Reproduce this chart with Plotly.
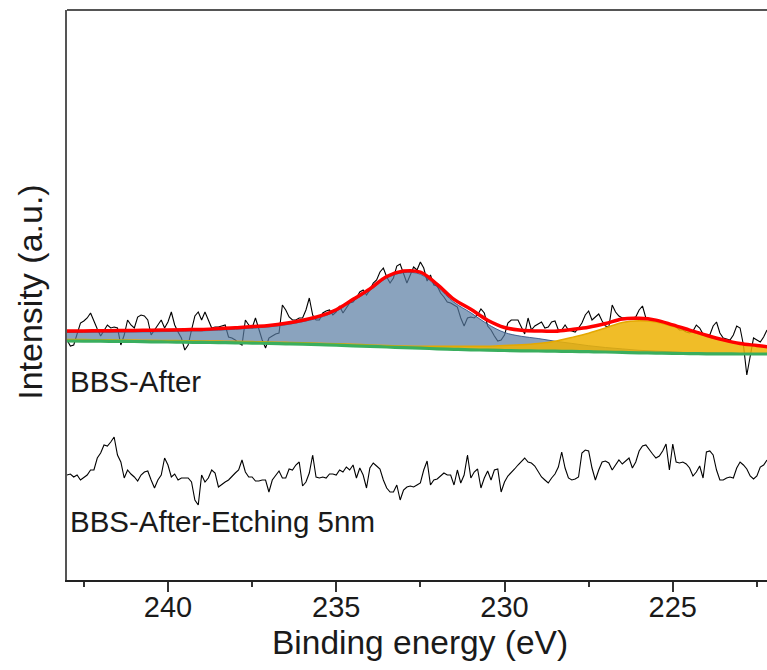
import numpy as np
import plotly.graph_objects as go

# ---------------- data ----------------
# raw spectra, binding energy grid 243.0 -> 222.2 eV, step 0.1 eV
energy = np.round(243.0 - 0.1 * np.arange(209), 1)

bbs_after = [
    240, 234, 235, 245, 257, 259, 262, 267, 258, 251,
    244, 250, 255, 252, 253, 252, 235, 245, 260, 255,
    252, 263, 265, 264, 260, 245, 250, 255, 260, 252,
    258, 268, 255, 248, 242, 230, 235, 250, 264, 268,
    260, 268, 260, 252, 253, 253, 254, 255, 243, 242,
    240, 237, 235, 260, 255, 252, 262, 250, 240, 232,
    242, 244, 246, 247, 275, 270, 263, 260, 260, 262,
    262, 270, 282, 265, 260, 260, 267, 269, 270, 265,
    268, 274, 267, 272, 277, 278, 282, 288, 290, 285,
    290, 297, 300, 308, 312, 303, 297, 302, 314, 316,
    307, 297, 305, 313, 310, 318, 312, 299, 305, 295,
    294, 287, 283, 278, 277, 275, 273, 262, 254, 262,
    263, 262, 265, 271, 267, 254, 250, 244, 239, 240,
    245, 257, 260, 260, 260, 253, 246, 262, 250, 254,
    256, 258, 252, 253, 258, 259, 250, 250, 255, 250,
    249, 248, 252, 257, 265, 269, 260, 263, 266, 259,
    254, 253, 275, 268, 264, 262, 262, 262, 262, 263,
    270, 274, 262, 260, 260, 259, 259, 258, 257, 255,
    255, 253, 250, 250, 248, 247, 249, 255, 252, 246,
    244, 245, 254, 258, 247, 242, 241, 240, 245, 254,
    252, 235, 205, 222, 242, 240, 238, 243, 250,
]

bbs_after_etch = [
    105, 106, 103, 105, 100, 103, 105, 110, 110, 122,
    127, 135, 134, 138, 143, 125, 118, 102, 110, 106,
    103, 99, 105, 108, 109, 100, 92, 100, 105, 122,
    115, 103, 106, 100, 102, 102, 102, 98, 80, 75,
    105, 98, 102, 110, 107, 93, 96, 98, 100, 104,
    107, 110, 120, 108, 103, 103, 99, 99, 100, 100,
    88, 100, 105, 109, 102, 102, 111, 110, 115, 118,
    94, 98, 107, 125, 103, 102, 103, 102, 106, 106,
    105, 110, 108, 113, 110, 115, 102, 112, 105, 92,
    112, 117, 114, 111, 100, 92, 88, 88, 95, 80,
    90, 93, 94, 93, 95, 97, 110, 119, 95, 100,
    101, 104, 107, 105, 105, 95, 110, 97, 105, 125,
    102, 108, 111, 92, 102, 109, 100, 110, 111, 88,
    98, 104, 107, 111, 115, 119, 122, 118, 117, 114,
    109, 103, 100, 97, 102, 106, 113, 128, 112, 102,
    100, 101, 103, 127, 130, 129, 112, 100, 110, 118,
    119, 117, 110, 115, 120, 116, 119, 122, 112, 118,
    129, 134, 135, 130, 126, 122, 124, 129, 136, 110,
    136, 118, 117, 118, 116, 112, 104, 108, 114, 102,
    128, 129, 125, 110, 100, 100, 102, 103, 102, 112,
    118, 115, 111, 104, 101, 104, 113, 115, 120,
]

# fit components, grid 243.0 -> 222.0 eV, step 0.5 eV
fit_energy = np.round(243.0 - 0.5 * np.arange(43), 1)

background = [
    239.0, 238.9, 238.8, 238.6, 238.5, 238.2, 238.0, 237.8, 237.6, 237.4,
    237.2, 236.9, 236.6, 236.2, 235.8, 235.3, 234.8, 234.2, 233.6, 233.0,
    232.4, 231.8, 231.2, 230.7, 230.2, 229.8, 229.5, 229.2, 229.0, 228.8,
    228.6, 228.3, 228.0, 227.6, 227.2, 226.9, 226.6, 226.4, 226.2, 226.1,
    226.0, 226.0, 226.0,
]

peak_233 = [
    8.5, 8.7, 9.0, 9.3, 9.6, 10.0, 10.5, 11.0, 11.5, 12.5,
    13.5, 15.0, 16.5, 19.0, 22.5, 27.0, 34.0, 45.0, 56.0, 69.0,
    75.0, 74.0, 62.0, 47.0, 37.0, 26.0, 18.0, 14.5, 12.5, 10.0,
    8.0, 6.0, 4.5, 3.5, 2.5, 2.0, 1.5, 1.0, 1.0, 0.5,
    0.5, 0.5, 0.5,
]

peak_226 = [
    1.5, 1.5, 1.5, 1.5, 1.5, 1.5, 1.5, 1.5, 1.5, 1.5,
    1.5, 1.5, 1.5, 1.5, 1.5, 1.5, 1.5, 1.5, 1.5, 1.5,
    1.5, 2.0, 2.5, 3.0, 3.5, 4.0, 5.0, 6.0, 7.5, 10.0,
    14.0, 18.5, 24.0, 30.0, 32.0, 31.0, 27.0, 22.5, 17.5, 13.5,
    10.0, 8.0, 6.0,
]

labels = ["BBS-After", "BBS-After-Etching 5nm"]
x_ticks = [240, 235, 230, 225]

# ---------------- figure ----------------
bg = np.array(background)
blue_top = bg + np.array(peak_233)
yellow_top = bg + np.array(peak_226)
envelope = bg + np.array(peak_233) + np.array(peak_226)

FONT = "Liberation Sans, Arial, sans-serif"
fig = go.Figure()

fig.add_trace(go.Scatter(x=energy, y=bbs_after, mode="lines",
                         line=dict(color="black", width=1.1)))
fig.add_trace(go.Scatter(x=energy, y=bbs_after_etch, mode="lines",
                         line=dict(color="black", width=1.1)))

# blue component
fig.add_trace(go.Scatter(x=fit_energy, y=bg, mode="lines",
                         line=dict(width=0, shape="spline")))
fig.add_trace(go.Scatter(x=fit_energy, y=blue_top, mode="lines", fill="tonexty",
                         fillcolor="rgba(88,124,162,0.70)",
                         line=dict(color="rgba(50,85,135,0.9)", width=1, shape="spline")))
# yellow component
fig.add_trace(go.Scatter(x=fit_energy, y=bg, mode="lines",
                         line=dict(width=0, shape="spline")))
fig.add_trace(go.Scatter(x=fit_energy, y=yellow_top, mode="lines", fill="tonexty",
                         fillcolor="rgba(237,178,2,0.85)",
                         line=dict(color="rgba(228,168,0,1)", width=1.5, shape="spline")))
# background and envelope
fig.add_trace(go.Scatter(x=fit_energy, y=bg, mode="lines",
                         line=dict(color="#3aae5e", width=3.2, shape="spline")))
fig.add_trace(go.Scatter(x=fit_energy, y=envelope, mode="lines",
                         line=dict(color="#ff0000", width=3.5, shape="spline")))

fig.update_layout(
    width=767, height=670,
    margin=dict(l=67, r=0, t=10, b=90),
    paper_bgcolor="white", plot_bgcolor="white",
    showlegend=False, hovermode=False,
    font=dict(family=FONT, color="#1a1a1a"),
)
fig.update_xaxes(
    range=[243.0, 222.2], tickvals=x_ticks, ticktext=[str(t) for t in x_ticks],
    ticks="outside", ticklen=10, tickwidth=1.5, tickcolor="#333",
    ticklabelstandoff=-10,
    tickfont=dict(size=29, family=FONT, color="#1a1a1a"),
    minor=dict(dtick=2.5, tick0=240, ticks="outside", ticklen=5, tickwidth=1.5,
               tickcolor="#333", showgrid=False),
    showline=True, linecolor="#222", linewidth=2,
    showgrid=False, zeroline=False,
)
fig.update_yaxes(
    range=[0, 570], showticklabels=False, ticks="",
    showline=True, linecolor="#555", linewidth=2,
    showgrid=False, zeroline=False,
)
fig.add_shape(type="line", xref="paper", yref="paper", x0=0, x1=1, y0=1, y1=1,
              line=dict(color="#555", width=2))

fig.add_annotation(text="Binding energy (eV)", xref="paper", yref="paper",
                   x=0.504, y=-0.1105, xanchor="center", yanchor="middle",
                   showarrow=False, font=dict(size=33.5, family=FONT, color="#1a1a1a"))
fig.add_annotation(text="Intensity (a.u.)", xref="paper", yref="paper",
                   x=-0.052, y=0.505, xanchor="center", yanchor="middle", textangle=-90,
                   showarrow=False, font=dict(size=34, family=FONT, color="#1a1a1a"))
fig.add_annotation(text=labels[0], xref="paper", yref="paper",
                   x=0.0015, y=0.349, xanchor="left", yanchor="middle",
                   showarrow=False, font=dict(size=29.5, family=FONT, color="#1a1a1a"))
fig.add_annotation(text=labels[1], xref="paper", yref="paper",
                   x=0.0015, y=0.1018, xanchor="left", yanchor="middle",
                   showarrow=False, font=dict(size=29.5, family=FONT, color="#1a1a1a"))

fig.write_html("out.html")
